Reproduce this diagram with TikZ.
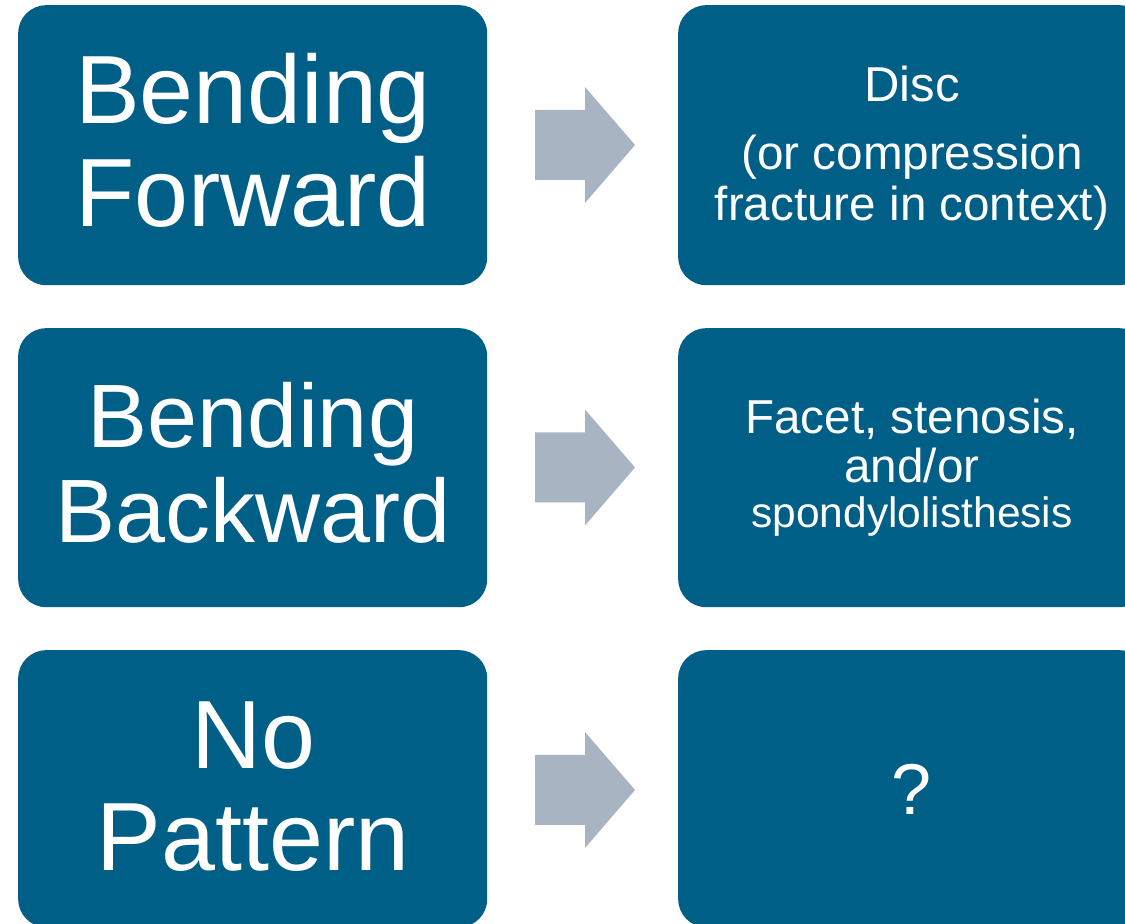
\documentclass[tikz,border=0pt]{standalone}
\usepackage{fontspec}
\setmainfont{Liberation Sans}
\definecolor{boxblue}{HTML}{005F87}
\definecolor{arrowgray}{HTML}{A9B4C2}
\tikzset{
  box/.style={fill=boxblue, draw=none, rounded corners=28pt, inner sep=0pt,
    minimum width=469pt, anchor=north west},
  txt/.style={text=white, inner sep=0pt, anchor=base},
  big/.style={font=\fontsize{97}{103}\selectfont},
  mid/.style={font=\fontsize{90}{95}\selectfont},
  small/.style={font=\fontsize{47.6}{50}\selectfont},
  blockarrow/.pic={\fill[arrowgray] (-50,35) -- (0,35) -- (0,58) -- (50,0) -- (0,-58) -- (0,-35) -- (-50,-35) -- cycle;}
}
\begin{document}
\begin{tikzpicture}[x=1pt,y=1pt]
\useasboundingbox (0,0) rectangle (1125,924);
\clip (0,0) rectangle (1125,924);
\fill[white] (0,0) rectangle (1125,924);
% boxes
\node[box, minimum height=280pt] (l1) at (18,919) {};
\node[box, minimum height=279pt] (l2) at (18,596) {};
\node[box, minimum height=277pt] (l3) at (18,274) {};
\node[box, minimum height=280pt] (r1) at (678,919) {};
\node[box, minimum height=279pt] (r2) at (678,596) {};
\node[box, minimum height=277pt] (r3) at (678,274) {};
% arrows
\pic at (585,779) {blockarrow};
\pic at (585,456.5) {blockarrow};
\pic at (585,134) {blockarrow};
% left texts
\node[txt, big] (l1a) at (253,800) {Bending};
\node[txt, big] (l1b) at (253,697) {Forward};
\node[txt, mid] (l2a) at (253,476) {Bending};
\node[txt, mid] (l2b) at (253,381) {Backward};
\node[txt, big] (l3a) at (253,155) {No};
\node[txt, big] (l3b) at (253,53) {Pattern};
% right texts
\node[txt, font=\fontsize{49}{50}\selectfont] (r1a) at (912,822) {Disc};
\node[txt, small] (r1b) at (912,754) {(or compression};
\node[txt, small] (r1c) at (912,703) {fracture in context)};
\node[txt, small] (r2a) at (912,490) {Facet, stenosis,};
\node[txt, small] (r2b) at (912,441) {and/or};
\node[txt, font=\fontsize{42.5}{45}\selectfont] (r2c) at (912,396) {spondylolisthesis};
\node[txt, font=\fontsize{72}{76}\selectfont] (r3a) at (912,109) {?};
\end{tikzpicture}
\end{document}
